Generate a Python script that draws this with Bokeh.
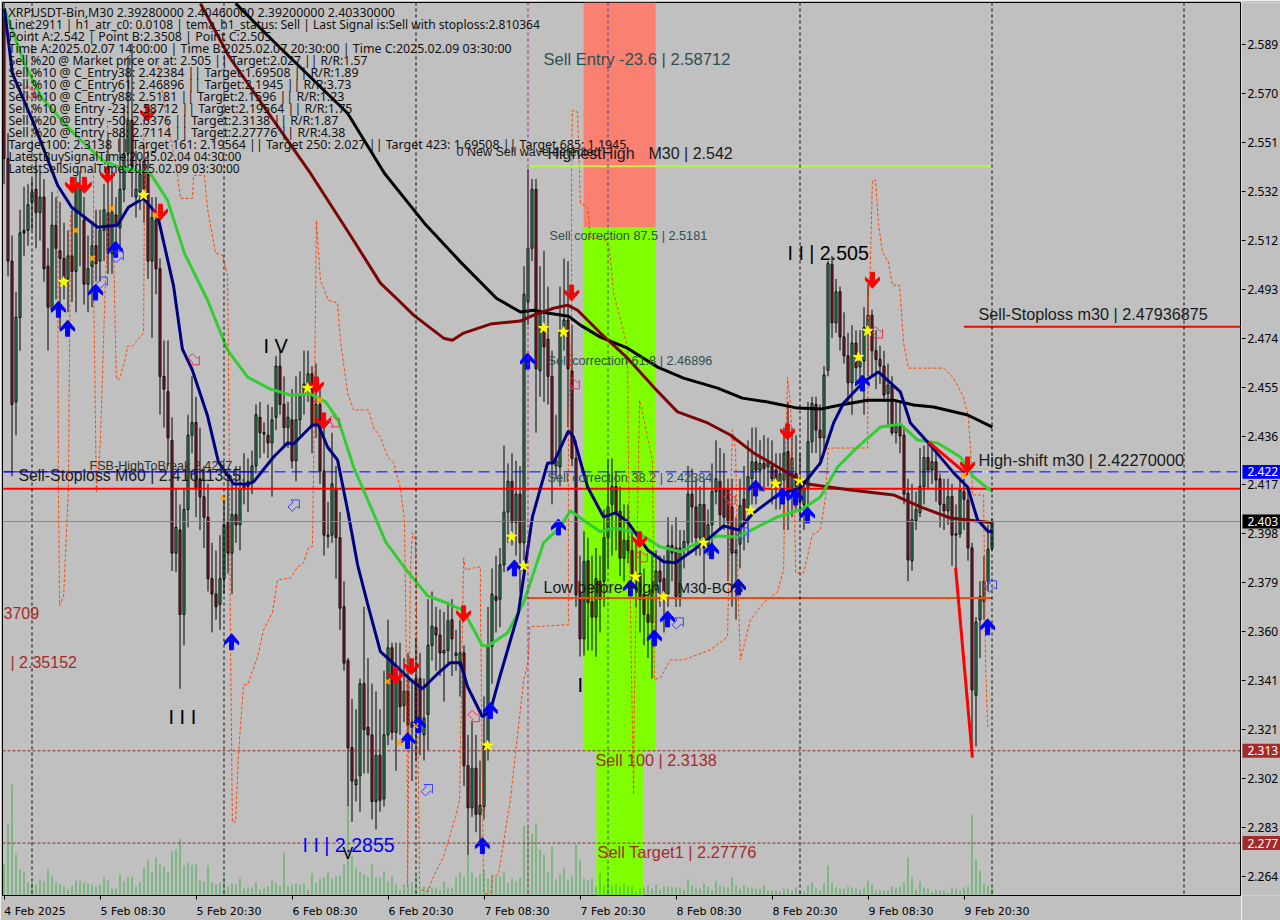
from bokeh.plotting import figure
from bokeh.layouts import row
from bokeh.models import (Label, ColumnDataSource, Range1d, FixedTicker, Span, LinearAxis)
from bokeh.embed import file_html
from bokeh.resources import INLINE
import math

OPEN = [2.600,2.545,2.505,2.450,2.483,2.517,2.517,2.528,2.533,2.524,
2.530,2.503,2.486,2.519,2.509,2.506,2.498,2.507,2.501,2.524,
2.521,2.496,2.503,2.511,2.505,2.517,2.524,2.508,2.523,2.518,
2.533,2.547,2.560,2.530,2.532,2.544,2.539,2.505,2.521,2.502,
2.460,2.454,2.435,2.391,2.400,2.367,2.408,2.437,2.442,2.420,
2.413,2.405,2.381,2.375,2.371,2.381,2.403,2.391,2.406,2.402,
2.418,2.417,2.419,2.425,2.444,2.438,2.437,2.434,2.444,2.464,
2.449,2.440,2.443,2.427,2.443,2.453,2.455,2.461,2.441,2.449,
2.423,2.398,2.398,2.416,2.397,2.370,2.349,2.315,2.3005,2.304,
2.340,2.323,2.320,2.294,2.312,2.295,2.320,2.354,2.321,2.341,
2.3315,2.337,2.323,2.342,2.342,2.320,2.328,2.355,2.362,2.359,
2.352,2.353,2.365,2.351,2.347,2.352,2.308,2.2915,2.307,2.289,
2.292,2.316,2.3545,2.374,2.373,2.3864,2.407,2.419,2.403,2.414,
2.395,2.489,2.510,2.533,2.4622,2.479,2.4745,2.460,2.425,2.4246,
2.4773,2.482,2.462,2.428,2.3753,2.3575,2.388,2.372,2.366,2.380,
2.380,2.397,2.410,2.417,2.4074,2.389,2.396,2.392,2.382,2.383,
2.375,2.367,2.364,2.3766,2.384,2.381,2.375,2.394,2.393,2.374,
2.393,2.395,2.414,2.409,2.397,2.410,2.394,2.402,2.415,2.419,
2.416,2.416,2.409,2.391,2.3945,2.412,2.408,2.4201,2.4266,2.4234,
2.426,2.4247,2.425,2.4234,2.4175,2.4195,2.4306,2.4156,2.422,2.4188,
2.410,2.416,2.4345,2.449,2.439,2.436,2.4624,2.5037,2.4809,2.493,
2.4754,2.468,2.4575,2.473,2.4637,2.466,2.4787,2.4838,2.470,2.4666,
2.464,2.4533,2.4565,2.438,2.4403,2.437,2.4143,2.388,2.4037,2.4068,
2.417,2.4283,2.4234,2.4266,2.420,2.410,2.4075,2.413,2.398,2.3985,
2.415,2.4117,2.393,2.3355,2.365,2.372,2.380,2.3928]
CLOSE = [2.545,2.505,2.449,2.483,2.516,2.516,2.527,2.532,2.524,2.530,
2.502,2.487,2.519,2.510,2.506,2.498,2.507,2.501,2.534,2.534,
2.496,2.502,2.511,2.504,2.517,2.525,2.508,2.524,2.519,2.533,
2.547,2.560,2.542,2.533,2.539,2.533,2.505,2.522,2.502,2.460,
2.455,2.436,2.391,2.401,2.367,2.408,2.437,2.442,2.416,2.413,
2.405,2.381,2.375,2.370,2.381,2.402,2.391,2.406,2.402,2.416,
2.416,2.419,2.425,2.445,2.438,2.4375,2.434,2.443,2.464,2.449,
2.440,2.444,2.427,2.443,2.453,2.457,2.461,2.441,2.449,2.423,
2.398,2.3975,2.418,2.397,2.3695,2.348,2.315,2.302,2.3025,2.340,
2.322,2.320,2.294,2.312,2.2945,2.320,2.354,2.321,2.342,2.331,
2.337,2.324,2.325,2.323,2.321,2.3265,2.355,2.3625,2.359,2.352,
2.353,2.3645,2.3575,2.352,2.352,2.308,2.2915,2.307,2.289,2.2925,
2.3155,2.3545,2.375,2.3725,2.3864,2.407,2.419,2.403,2.414,2.395,
2.492,2.510,2.533,2.463,2.485,2.4715,2.460,2.427,2.427,2.4773,
2.482,2.463,2.428,2.3747,2.3575,2.3877,2.3717,2.366,2.381,2.373,
2.397,2.409,2.417,2.407,2.389,2.396,2.392,2.383,2.383,2.373,
2.367,2.364,2.3766,2.384,2.3798,2.375,2.394,2.391,2.374,2.393,
2.3955,2.414,2.409,2.397,2.410,2.393,2.402,2.415,2.420,2.406,
2.405,2.403,2.391,2.392,2.4095,2.404,2.4208,2.4266,2.4234,2.426,
2.424,2.4266,2.420,2.4175,2.422,2.430,2.4117,2.428,2.417,2.411,
2.416,2.4345,2.4494,2.439,2.436,2.4605,2.504,2.4809,2.493,2.4754,
2.468,2.4575,2.473,2.4634,2.466,2.479,2.4838,2.470,2.4666,2.464,
2.4527,2.4565,2.438,2.4416,2.4367,2.414,2.3883,2.404,2.408,2.417,
2.4283,2.4234,2.4266,2.4195,2.410,2.4075,2.413,2.398,2.3985,2.4156,
2.412,2.393,2.3376,2.364,2.374,2.380,2.3925,2.4033]
HIGH = [2.606,2.555,2.515,2.493,2.525,2.534,2.535,2.537,2.545,2.540,
2.537,2.510,2.532,2.530,2.528,2.520,2.517,2.525,2.538,2.540,
2.530,2.515,2.520,2.525,2.525,2.535,2.555,2.540,2.530,2.555,
2.565,2.585,2.590,2.548,2.545,2.550,2.548,2.530,2.530,2.506,
2.474,2.474,2.444,2.416,2.410,2.416,2.445,2.460,2.452,2.440,
2.425,2.418,2.395,2.392,2.398,2.412,2.422,2.420,2.425,2.425,
2.430,2.428,2.431,2.449,2.450,2.442,2.449,2.448,2.468,2.470,
2.460,2.450,2.455,2.460,2.462,2.470,2.470,2.464,2.465,2.455,
2.440,2.411,2.438,2.425,2.407,2.380,2.350,2.334,2.330,2.342,
2.370,2.350,2.340,2.337,2.330,2.345,2.365,2.356,2.356,2.356,
2.350,2.352,2.342,2.358,2.352,2.342,2.373,2.376,2.370,2.369,
2.368,2.372,2.373,2.361,2.365,2.355,2.320,2.325,2.320,2.310,
2.335,2.370,2.385,2.390,2.393,2.433,2.426,2.430,2.427,2.425,
2.503,2.541,2.537,2.537,2.503,2.509,2.495,2.470,2.445,2.495,
2.506,2.505,2.480,2.435,2.390,2.3995,2.397,2.390,2.393,2.390,
2.408,2.4275,2.428,2.423,2.417,2.410,2.410,2.400,2.395,2.392,
2.385,2.375,2.390,2.392,2.390,2.390,2.405,2.402,2.405,2.400,
2.400,2.425,2.424,2.420,2.417,2.420,2.408,2.426,2.435,2.432,
2.430,2.420,2.420,2.405,2.420,2.425,2.435,2.440,2.440,2.435,
2.437,2.436,2.435,2.430,2.430,2.440,2.450,2.440,2.437,2.430,
2.420,2.450,2.452,2.452,2.449,2.464,2.505,2.507,2.498,2.495,
2.485,2.477,2.480,2.478,2.478,2.487,2.496,2.486,2.478,2.472,
2.470,2.465,2.460,2.450,2.450,2.440,2.420,2.418,2.415,2.432,
2.433,2.434,2.432,2.432,2.422,2.420,2.420,2.418,2.410,2.420,
2.420,2.416,2.395,2.366,2.380,2.390,2.402,2.4046]
LOW = [2.535,2.499,2.421,2.437,2.470,2.507,2.511,2.517,2.510,2.513,
2.497,2.470,2.485,2.490,2.478,2.490,2.485,2.489,2.485,2.503,
2.488,2.485,2.487,2.497,2.497,2.505,2.500,2.500,2.508,2.510,
2.528,2.540,2.530,2.522,2.525,2.520,2.498,2.475,2.492,2.445,
2.440,2.425,2.384,2.3835,2.338,2.355,2.401,2.430,2.405,2.400,
2.393,2.376,2.360,2.365,2.361,2.375,2.383,2.375,2.395,2.392,
2.410,2.407,2.414,2.422,2.428,2.430,2.428,2.413,2.439,2.445,
2.433,2.432,2.424,2.419,2.437,2.445,2.450,2.430,2.436,2.418,
2.390,2.393,2.395,2.381,2.361,2.345,2.292,2.286,2.294,2.290,
2.305,2.305,2.287,2.283,2.290,2.292,2.316,2.318,2.306,2.320,
2.325,2.320,2.302,2.310,2.312,2.310,2.314,2.349,2.345,2.343,
2.333,2.347,2.343,2.345,2.335,2.300,2.273,2.288,2.282,2.278,
2.287,2.310,2.340,2.360,2.362,2.3835,2.395,2.394,2.390,2.3755,
2.388,2.480,2.505,2.438,2.452,2.450,2.449,2.410,2.420,2.417,
2.470,2.440,2.425,2.370,2.3506,2.351,2.353,2.353,2.3505,2.360,
2.370,2.385,2.390,2.392,2.382,2.380,2.387,2.376,2.370,2.360,
2.355,2.350,2.342,2.360,2.370,2.360,2.370,2.380,2.370,2.370,
2.385,2.390,2.395,2.390,2.390,2.375,2.390,2.390,2.410,2.400,
2.400,2.380,2.370,2.365,2.385,2.392,2.395,2.410,2.410,2.415,
2.415,2.417,2.410,2.408,2.408,2.400,2.400,2.405,2.408,2.403,
2.400,2.410,2.430,2.430,2.425,2.430,2.460,2.475,2.477,2.470,
2.465,2.449,2.445,2.457,2.457,2.445,2.460,2.460,2.455,2.457,
2.450,2.440,2.437,2.4338,2.430,2.410,2.380,2.384,2.400,2.405,
2.410,2.416,2.418,2.411,2.401,2.400,2.402,2.386,2.385,2.397,
2.400,2.388,2.315,2.3155,2.350,2.365,2.376,2.392]
VOLUME = [31,72,111,41,26,24,13,14,11,16,
14,26,19,13,11,9,6,10,15,15,
13,12,11,9,11,18,15,7,7,21,
14,18,19,9,13,28,36,23,38,31,
29,23,44,46,57,30,33,31,31,15,
14,30,13,11,13,19,9,12,11,17,
7,8,8,13,6,7,9,15,13,10,
43,9,11,12,11,12,6,22,13,17,
18,23,17,19,20,31,88,39,28,24,
21,19,31,18,18,24,14,19,11,6,
11,11,13,21,6,9,8,8,8,6,
14,8,8,18,23,19,39,23,18,21,
26,17,21,19,19,24,13,17,14,18,
70,70,62,72,46,41,23,49,16,21,
28,16,20,51,36,17,15,17,9,23,
10,18,10,12,9,12,9,9,4,7,
8,10,7,11,6,9,9,8,8,8,
6,16,10,8,7,12,9,6,15,10,
9,8,18,10,7,10,8,8,7,7,
10,5,5,5,4,7,7,5,8,5,
4,10,13,7,5,12,30,13,8,7,
7,9,8,7,6,8,15,11,5,6,
5,5,9,8,9,13,38,18,6,14,
8,7,4,6,5,5,3,8,7,5,
8,9,81,36,25,12,10,7]

BLACK_X = [57.9,66.4,85.9,95.1,105.1,114.4,123.1,129.1,132.4,135.9,141.1,144.1,149.1,155.9,163.4,169.9,178.4,184.6,190.9,198.4,204.1,209.1,215.9,222.4,227.4,232.4,240.9,247.1]
BLACK_Y = [2.6056,2.5923,2.5627,2.5393,2.5198,2.5042,2.4905,2.4851,2.4858,2.4847,2.4835,2.4800,2.4753,2.4710,2.4636,2.4593,2.4554,2.4515,2.4500,2.4476,2.4472,2.4488,2.4507,2.4507,2.4488,2.4480,2.4449,2.4402]
MAROON_X = [49.1,56.4,64.4,76.6,86.9,94.1,98.6,102.4,109.9,112.1,114.9,121.6,129.1,132.4,137.4,140.9,143.4,149.1,155.9,162.4,168.4,175.9,181.6,187.4,195.9,200.9,211.6,222.4,229.1,236.6,247.1]
MAROON_Y = [2.6056,2.5845,2.5666,2.5393,2.5143,2.4964,2.4897,2.4839,2.4749,2.4741,2.4769,2.4804,2.4816,2.4839,2.4866,2.4878,2.4858,2.4769,2.4671,2.4558,2.4461,2.4418,2.4371,2.4301,2.4223,2.4180,2.4156,2.4137,2.4090,2.4047,2.4028]
GREEN_X = [0.1,5.1,9.4,17.4,24.6,29.6,36.4,40.9,45.1,50.9,55.9,60.9,66.6,71.6,76.6,80.4,83.6,87.4,93.4,95.4,100.4,105.9,109.9,114.9,119.6,121.1,125.9,129.9,134.9,139.1,141.6,144.1,149.1,152.9,158.4,164.1,169.1,173.4,178.4,183.4,185.9,193.4,199.6,204.1,208.4,213.4,219.1,224.1,228.4,233.4,239.1,242.4,247.1]
GREEN_Y = [2.6036,2.5822,2.5689,2.5549,2.5443,2.5412,2.5397,2.5287,2.5081,2.4897,2.4702,2.4597,2.4550,2.4527,2.4531,2.4500,2.4429,2.4246,2.4028,2.3954,2.3848,2.3743,2.3720,2.3685,2.3548,2.3548,2.3599,2.3716,2.3950,2.4012,2.4075,2.4047,2.3993,2.4008,2.3989,2.3934,2.3915,2.3950,2.3977,2.3973,2.3993,2.4051,2.4082,2.4129,2.4246,2.4324,2.4402,2.4414,2.4351,2.4340,2.4285,2.4207,2.4149]
NAVY_X = [0.1,2.1,7.4,13.4,16.9,23.4,28.4,31.1,34.9,38.4,42.4,44.6,47.1,50.9,53.6,57.4,61.1,62.4,67.4,70.9,72.4,77.1,78.6,80.9,83.4,85.9,88.4,90.9,94.1,96.6,101.6,104.6,108.4,111.6,114.1,115.9,119.6,121.6,124.1,128.6,132.1,135.9,137.4,141.1,142.4,145.9,149.9,152.9,155.9,160.9,164.9,167.9,174.9,179.9,183.6,187.4,193.4,199.1,204.1,207.4,209.9,214.9,218.6,224.1,226.6,230.9,237.4,240.9,243.4,246.1,247.1]
NAVY_Y = [2.6036,2.5783,2.5588,2.5346,2.5260,2.5182,2.5190,2.5260,2.5295,2.5229,2.4952,2.4706,2.4624,2.4445,2.4266,2.4180,2.4180,2.4188,2.4285,2.4340,2.4336,2.4410,2.4410,2.4324,2.4273,2.4078,2.3864,2.3712,2.3525,2.3490,2.3416,2.3380,2.3439,2.3482,2.3482,2.3388,2.3271,2.3295,2.3435,2.3677,2.4051,2.4262,2.4262,2.4387,2.4363,2.4168,2.4051,2.4067,2.4032,2.3922,2.3876,2.3872,2.3950,2.4016,2.4000,2.4067,2.4137,2.4164,2.4262,2.4418,2.4496,2.4578,2.4617,2.4539,2.4418,2.4344,2.4223,2.4168,2.4039,2.3993,2.3996]
ZIG_A_X = [231.1,240.9]
ZIG_A_Y = [2.4344,2.4215]
ZIG_B_X = [237.9,242.1]
ZIG_B_Y = [2.3852,2.3111]

NAN = float("nan")
BAND_X = [13.4,13.6,13.9,14.9,16.1,16.4,16.6,NAN,
22.4,22.4,22.6,23.1,24.1,25.4,25.9,25.9,NAN,
27.4,27.9,28.1,28.9,30.4,30.9,32.1,34.9,35.1,34.9,NAN,
38.4,39.9,43.4,44.1,47.1,47.4,50.1,50.9,52.9,54.6,55.9,56.1,56.4,56.6,57.1,57.9,58.6,59.1,59.9,60.9,63.4,64.9,67.1,68.4,71.6,73.4,74.9,76.1,77.1,77.4,77.9,78.1,79.1,81.1,83.4,84.1,85.9,87.4,91.1,92.4,94.1,95.9,97.4,99.1,100.1,100.4,100.9,100.9,101.6,102.1,102.9,103.1,103.9,105.9,107.4,109.9,112.9,113.9,114.6,114.9,115.4,117.4,119.1,119.1,119.9,121.6,122.1,123.6,126.6,129.9,131.1,131.4,141.1,141.1,141.9,141.9,142.1,143.4,144.1,145.9,146.6,150.4,151.4,152.4,155.9,156.1,156.9,157.4,157.6,158.9,160.9,162.1,162.4,162.6,164.1,166.6,169.9,176.6,180.9,181.1,182.1,182.9,183.6,184.1,186.6,189.9,193.4,194.9,195.4,195.9,196.6,197.6,197.9,199.9,202.1,204.1,205.4,206.1,215.9,216.1,216.6,217.1,217.9,218.6,219.6,221.1,222.1,223.9,224.9,226.1,234.9,237.4,239.9,241.1,241.9,242.1,244.9,245.4,245.9,246.4]
BAND_Y = [2.5326,2.4156,2.3704,2.3739,2.4156,2.4734,2.5229,NAN,
2.5404,2.4936,2.4734,2.4149,2.4344,2.4995,2.5124,2.5600,NAN,
2.5092,2.4718,2.4589,2.4589,2.4675,2.4718,2.4718,2.4769,2.5311,2.5600,NAN,
2.5833,2.5677,2.5385,2.5295,2.5295,2.5385,2.5385,2.5252,2.5081,2.5073,2.4995,2.4706,2.4086,2.3599,2.2858,2.2862,2.3115,2.3232,2.3396,2.3396,2.3505,2.3610,2.3677,2.3805,2.3813,2.3856,2.3872,2.3930,2.3934,2.4246,2.4897,2.5209,2.4975,2.4897,2.4886,2.4741,2.4535,2.4469,2.4469,2.4398,2.4363,2.4285,2.4262,2.4164,2.4040,2.3727,2.2947,2.2608,2.3844,2.3989,2.3961,2.3727,2.2597,2.2589,2.2647,2.2725,2.2881,2.2947,2.3599,2.3891,2.3844,2.3852,2.3856,2.3727,2.2585,2.2569,2.2647,2.2655,2.2947,2.3413,2.3491,2.3622,2.3630,2.4402,2.4792,2.5443,2.5639,2.5631,2.5276,2.5260,2.5143,2.5131,2.5092,2.4925,2.4714,2.4273,2.3416,2.2967,2.3337,2.4507,2.4363,2.4273,2.3884,2.3416,2.3423,2.3493,2.3493,2.3532,2.3583,2.3755,2.4390,2.4312,2.3727,2.3493,2.3649,2.3716,2.3759,2.3844,2.4324,2.4597,2.4496,2.4117,2.3833,2.3833,2.3981,2.4000,2.4129,2.4320,2.4320,2.4897,2.5042,2.5365,2.5365,2.5198,2.5085,2.5046,2.4956,2.4956,2.4730,2.4632,2.4632,2.4593,2.4519,2.4441,2.4246,2.4137,2.4137,2.3466,2.3232,2.3232]

BUY_X = [13.6,15.9,22.9,27.9,56.9,100.9,103.6,119.6,121.6,127.6,130.9,138.6,156.6,162.6,165.9,176.9,183.6,187.9,194.6,197.9,200.9,214.6,245.9]
BUY_Y = [2.4862,2.4788,2.4929,2.5096,2.3564,2.3178,2.3240,2.2768,2.3295,2.3852,2.4660,2.4012,2.3774,2.3579,2.3653,2.3919,2.3778,2.4164,2.4133,2.4129,2.4059,2.4574,2.3622]
SELL_X = [17.1,20.1,25.9,35.9,39.1,78.1,79.9,97.9,101.9,114.9,141.9,158.9,195.9,217.1,240.9]
SELL_Y = [2.5346,2.5346,2.5385,2.5627,2.5241,2.4566,2.4426,2.3431,2.3466,2.3673,2.4925,2.3962,2.4383,2.4975,2.4254]
STAR_X = [14.9,34.9,75.9,120.9,126.9,129.9,134.9,139.9,157.9,164.9,174.9,186.6,192.9,198.9,213.6,215.9]
STAR_Y = [2.4968,2.5307,2.4554,2.3158,2.3973,2.3860,2.4788,2.4773,2.3817,2.3739,2.3950,2.4075,2.4180,2.4192,2.4675,2.4777]
CROSS_X = [17.9,22.1,26.9,37.9,54.9,78.9,95.9,98.9,102.9,239.9]
CROSS_Y = [2.5170,2.5061,2.5256,2.5229,2.4125,2.4507,2.3408,2.3170,2.3236,2.4215]
HOLLOW_BUY_X = [24.6,28.6,72.6,105.9,168.6,184.9,246.9]
HOLLOW_BUY_Y = [2.4968,2.5069,2.4098,2.2987,2.3638,2.3989,2.3782]
HOLLOW_SELL_X = [6.4,47.6,82.6,117.6,142.6,159.6,181.6,218.4]
HOLLOW_SELL_Y = [2.5709,2.4664,2.4422,2.3271,2.4570,2.3895,2.4121,2.4769]

DATE_TICKS = [0,24,48,72,96,120,144,168,192,216,240]
DATE_LABEL_CENTRES = [7.75,32.25,56.25,80.25,104.25,128.25,152.25,176.25,200.25,224.25,248.25]
DATE_LABELS = ["4 Feb 2025","5 Feb 08:30","5 Feb 20:30","6 Feb 08:30","6 Feb 20:30","7 Feb 08:30","7 Feb 20:30","8 Feb 08:30","8 Feb 20:30","9 Feb 08:30","9 Feb 20:30"]
DAY_SEPARATORS = [7,55,103,199,247,295]
PRICE_TICKS = [2.5895,2.5704,2.5513,2.5322,2.5131,2.4940,2.4749,2.4558,2.4367,2.4176,2.3985,2.3794,2.3603,2.3412,2.3221,2.3030,2.2839,2.2648]
PRICE_LABELS = ["2.589","2.570","2.551","2.532","2.512","2.493","2.474","2.455","2.436","2.417","2.398","2.379","2.360","2.341","2.321","2.302","2.283","2.264"]
FLAG_PRICES = [2.4227,2.4033,2.3138,2.27776]
FLAG_LABELS = ["2.422","2.403","2.313","2.277"]
FLAG_COLORS = ["#0000ff","#000000","#a52a2a","#a52a2a"]

BG = "#c0c0c0"
W, H = 1280, 920
MAIN_W = 1241
Y0, Y1 = 2.2573, 2.60596
PPX = 0.00039      # price per pixel
BPX = 0.25         # bars per pixel
FONT = "Liberation Sans"
FRAME_LEFT, FRAME_BOTTOM = 2, 896
BAR_COUNT = len(OPEN)
assert BAR_COUNT == 248 and len(CLOSE) == 248 and len(HIGH) == 248 and len(LOW) == 248 and len(VOLUME) == 248

y_range = Range1d(Y0, Y1)
p = figure(width=MAIN_W, height=H, output_backend="svg", toolbar_location=None,
           x_range=Range1d(-0.375, 309.125), y_range=y_range,
           y_axis_location=None, min_border_left=2, min_border_right=1,
           min_border_top=2, min_border_bottom=24,
           background_fill_color=BG, border_fill_color=BG,
           outline_line_color="black", outline_line_width=1)
p.grid.visible = False
p.extra_y_ranges = {"vol": Range1d(0, 894)}

xa = p.xaxis[0]
xa.ticker = FixedTicker(ticks=DATE_LABEL_CENTRES, minor_ticks=DATE_TICKS)
xa.major_label_overrides = dict(zip(DATE_LABEL_CENTRES, DATE_LABELS))
xa.major_label_text_font = "DejaVu Sans"
xa.major_label_text_font_size = "11px"
xa.major_label_text_color = "black"
xa.major_label_standoff = 5
xa.major_tick_out = 0
xa.major_tick_in = 0
xa.major_tick_line_color = None
xa.minor_tick_out = 4
xa.minor_tick_in = 0
xa.minor_tick_line_color = "black"
xa.axis_line_color = "black"

# zones
p.quad(left=[144.9], right=[162.9], bottom=[2.5181], top=[Y1], fill_color="#fa8072", line_color=None)
p.quad(left=[144.9], right=[162.9], bottom=[2.3138], top=[2.5181], fill_color="#7fff00", line_color=None)
p.quad(left=[148.1], right=[159.9], bottom=[Y0], top=[2.3138], fill_color="#7fff00", line_color=None)

# separators and levels
for s in DAY_SEPARATORS:
    p.add_layout(Span(location=s, dimension="height", line_color="black", line_width=1, line_dash="3 3"))
p.add_layout(Span(location=151, dimension="height", line_color="#3a3a9a", line_width=1, line_dash="3 3"))
p.add_layout(Span(location=131, dimension="height", line_color="#a0208a", line_width=1, line_dash="3 3"))
p.add_layout(Span(location=2.4033, dimension="width", line_color="#808890", line_width=1))
p.add_layout(Span(location=2.4227, dimension="width", line_color="#0000ff", line_width=1, line_dash="11 6"))
p.add_layout(Span(location=2.3138, dimension="width", line_color="#8b2a2a", line_width=1, line_dash="3 2"))
p.add_layout(Span(location=2.27776, dimension="width", line_color="#8b2a2a", line_width=1, line_dash="3 2"))

# volume
xs = list(range(BAR_COUNT))
p.segment(x0=xs, x1=xs, y0=[0]*BAR_COUNT, y1=VOLUME, y_range_name="vol", line_color="#3fae49", line_width=1)

# candles
up = [c >= o for o, c in zip(OPEN, CLOSE)]
src = ColumnDataSource(dict(
    x=xs, high=HIGH, low=LOW,
    bottom=[min(o, c) for o, c in zip(OPEN, CLOSE)],
    top=[max(o, c) for o, c in zip(OPEN, CLOSE)],
    color=["#3cb371" if u else "#b22234" for u in up]))
p.segment("x", "high", "x", "low", source=src, line_color="black", line_width=1)
p.vbar("x", width=0.5, bottom="bottom", top="top", source=src, fill_color="color", line_color="black", line_width=1)

# band
p.line(BAND_X, BAND_Y, line_color="#ff4500", line_width=1, line_dash="3 2")

# levels (segments)
p.segment(x0=[-0.2], x1=[309.1], y0=[2.41611], y1=[2.41611], line_color="#ff0000", line_width=2)
p.segment(x0=[240], x1=[309.1], y0=[2.47936875], y1=[2.47936875], line_color="#ff0000", line_width=2)
p.segment(x0=[131.1], x1=[247.1], y0=[2.542], y1=[2.542], line_color="#adff2f", line_width=2)
p.segment(x0=[130.4], x1=[247.1], y0=[2.3735], y1=[2.3735], line_color="#ff4500", line_width=2)
p.segment(x0=[0], x1=[63], y0=[2.4227], y1=[2.4227], line_color="#0000ff", line_width=1)
p.segment(x0=[240.5], x1=[247], y0=[2.4227], y1=[2.4227], line_color="white", line_width=1, line_dash="3 2")

# moving averages
p.line(BLACK_X, BLACK_Y, line_color="black", line_width=3)
p.line(MAROON_X, MAROON_Y, line_color="#7a0606", line_width=3)
p.line(GREEN_X, GREEN_Y, line_color="#32cd32", line_width=3)
p.line(NAVY_X, NAVY_Y, line_color="#000080", line_width=3)
p.line(ZIG_A_X, ZIG_A_Y, line_color="#ff0000", line_width=3)
p.line(ZIG_B_X, ZIG_B_Y, line_color="#ff0000", line_width=3)

# arrow shapes
UP_SHAPE = [(0,-8),(7,0),(7,3),(2,-1),(2,8),(-2,8),(-2,-1),(-7,3),(-7,0)]
HOLLOW = [(0,-7),(6,-1),(3,-1),(3,6),(-3,6),(-3,-1),(-6,-1)]

def shape_at(cx, cy, shape, angle=0.0, flip=False):
    a = math.radians(angle)
    sx, sy = [], []
    for dx, dy in shape:
        if flip:
            dy = -dy
        rx = dx*math.cos(a) - dy*math.sin(a)
        ry = dx*math.sin(a) + dy*math.cos(a)
        sx.append(cx + rx*BPX)
        sy.append(cy - ry*PPX)
    return sx, sy

for (X, Y, color, flip) in [(BUY_X, BUY_Y, "#0000ff", False), (SELL_X, SELL_Y, "#ff0000", True)]:
    shapes = [shape_at(a, b, UP_SHAPE, flip=flip) for a, b in zip(X, Y)]
    p.patches([s[0] for s in shapes], [s[1] for s in shapes], fill_color=color, line_color=color, line_width=1)
hb = [shape_at(a, b, HOLLOW, angle=45) for a, b in zip(HOLLOW_BUY_X, HOLLOW_BUY_Y)]
p.patches([s[0] for s in hb], [s[1] for s in hb], fill_color=None, line_color="#4040ff", line_width=1)
hs = [shape_at(a, b, HOLLOW, angle=135) for a, b in zip(HOLLOW_SELL_X, HOLLOW_SELL_Y)]
p.patches([s[0] for s in hs], [s[1] for s in hs], fill_color=None, line_color="#f03050", line_width=1)

p.scatter(CROSS_X, CROSS_Y, marker="x", size=7, line_color="#ffa500", line_width=2)
p.scatter(STAR_X, STAR_Y, marker="star", size=11, fill_color="#ffff00", line_color="#ffff00")

def note(x, y, text, size=16.3, color="#1a1a1a", font=FONT):
    p.add_layout(Label(x=x-FRAME_LEFT, y=FRAME_BOTTOM-y, x_units="screen", y_units="screen", text=text,
                       text_font=font, text_font_size=f"{size}px", text_color=color,
                       text_baseline="middle", text_align="left"))

INFO = ["XRPUSDT-Bin,M30  2.39280000 2.40460000 2.39200000 2.40330000",
"Line:2911 | h1_atr_c0: 0.0108 | tema_h1_status: Sell | Last Signal is:Sell with stoploss:2.810364",
"Point A:2.542 | Point B:2.3508 | Point C:2.505",
"Time A:2025.02.07 14:00:00 | Time B:2025.02.07 20:30:00 | Time C:2025.02.09 03:30:00",
"Sell %20 @ Market price or at: 2.505 || Target:2.027 || R/R:1.57",
"Sell %10 @ C_Entry38: 2.42384 || Target:1.69508 || R/R:1.89",
"Sell %10 @ C_Entry61: 2.46896 || Target:2.1945 || R/R:3.73",
"Sell %10 @ C_Entry88: 2.5181 || Target:2.1596 || R/R:1.23",
"Sell %10 @ Entry -23: 2.58712 || Target:2.19564 || R/R:1.75",
"Sell %20 @ Entry -50: 2.6376 || Target:2.3138 || R/R:1.87",
"Sell %20 @ Entry -88: 2.7114 || Target:2.27776 || R/R:4.38",
"Target100: 2.3138 || Target 161: 2.19564 || Target 250: 2.027 || Target 423: 1.69508 || Target 685: 1.1945",
"LatestBuySignalTime:2025.02.04 04:30:00",
"LatestSellSignalTime:2025.02.09 03:30:00"]
INFO_SIZES = [12.4,12.0,12.4,12.4,12.1,12.4,12.4,12.4,12.4,12.4,12.4,12.4,12.0,12.0]
for k, t in enumerate(INFO):
    note(8, 13 + 12*k, t, size=INFO_SIZES[k], color="#101010", font="Noto Sans")

SLATE = "#2f4f4f"
BROWN = "#a52a2a"
note(543, 60, "Sell Entry -23.6 | 2.58712", 16.6, SLATE)
note(549, 236, "Sell correction 87.5 | 2.5181", 12.7, SLATE)
note(547, 361, "Sell correction 61.8 | 2.46896", 12.7, SLATE)
note(547, 478, "Sell correction 38.2 | 2.42384", 12.7, SLATE)
note(456, 152, "0 New Sell wave detected", 12.5)
note(547, 154, "HighestHigh", 16)
note(648, 154, "M30 | 2.542", 16)
note(89, 466, "FSB-HighToBreak     2.4227", 12.6, "#303030")
note(18, 476, "Sell-Stoploss M60 | 2.41611355.", 15.8)
note(263, 346, "I V", 20, "black")
note(168, 717, "I I I", 20, "black")
note(302, 845, "I I | 2.2855", 19.6, "#0000ff")
note(342, 854, "V", 16, "black")
note(787, 253, "I I | 2.505", 19.6, "black")
note(577, 685, "I", 20, "black")
note(543, 588, "Low before High", 16)
note(677, 588, "M30-BOS", 15)
note(595, 760, "Sell 100 | 2.3138", 16.2, BROWN)
note(597, 852, "Sell Target1 | 2.27776", 16.4, BROWN)
note(3, 613, "3709", 16, BROWN)
note(10, 663, "| 2.35152", 16, BROWN)
note(978, 460, "High-shift m30 | 2.42270000", 16.4)
note(978, 314, "Sell-Stoploss m30 | 2.47936875", 16.2)

# price scale panel: its frame spans the whole strip, so scale and flags sit side by side
side = figure(width=W - MAIN_W, height=H, output_backend="svg", toolbar_location=None,
              x_range=Range1d(0, W - MAIN_W), y_range=y_range,
              x_axis_location=None, y_axis_location=None,
              min_border_left=0, min_border_right=0, min_border_top=2, min_border_bottom=24,
              background_fill_color=BG, border_fill_color=BG, outline_line_color=None)
side.grid.visible = False
side.quad(left=[1]*len(FLAG_PRICES), right=[W - MAIN_W]*len(FLAG_PRICES),
          bottom=[v - 7*PPX for v in FLAG_PRICES], top=[v + 7*PPX for v in FLAG_PRICES],
          fill_color=FLAG_COLORS, line_color=None)
scale_axis = LinearAxis(fixed_location=0, ticker=FixedTicker(ticks=PRICE_TICKS),
                        major_label_overrides=dict(zip(PRICE_TICKS, PRICE_LABELS)),
                        major_label_text_font="Noto Sans", major_label_text_font_size="12px",
                        major_label_text_color="black", major_label_standoff=2,
                        major_tick_out=4, major_tick_in=0, major_tick_line_color="black",
                        minor_tick_line_color=None, axis_line_color=None)
side.add_layout(scale_axis, "right")
flag_axis = LinearAxis(fixed_location=0, ticker=FixedTicker(ticks=FLAG_PRICES),
                       major_label_overrides=dict(zip(FLAG_PRICES, FLAG_LABELS)),
                       major_label_text_font="Noto Sans", major_label_text_font_size="12px",
                       major_label_text_color="white", major_label_standoff=6,
                       major_tick_out=0, major_tick_in=0, major_tick_line_color=None,
                       minor_tick_line_color=None, axis_line_color=None)
side.add_layout(flag_axis, "right")

open("out.html", "w").write(file_html(row(p, side, spacing=0), INLINE))
